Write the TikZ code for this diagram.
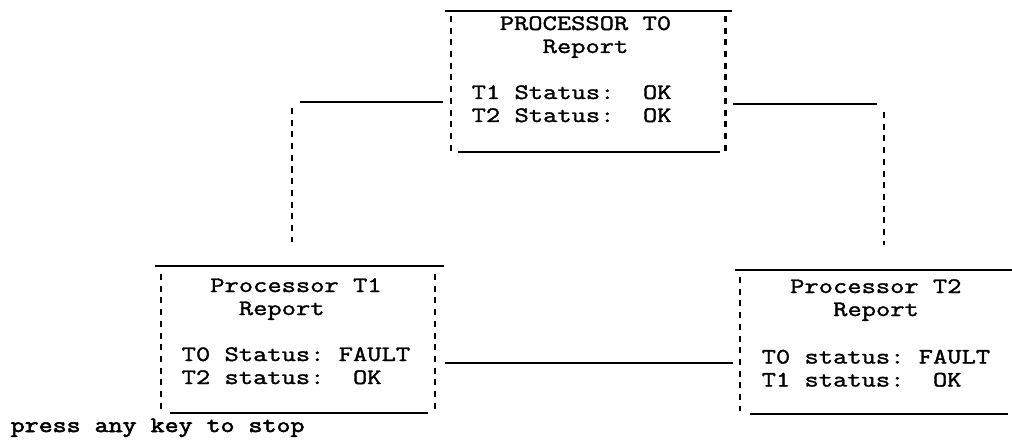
\documentclass[tikz,border=0pt]{standalone}
\usepackage{fontspec}
\newfontfamily\scr[FakeBold=1.6,FakeStretch=1.26]{Latin Modern Mono}
\newfontfamily\scrb[FakeBold=2.6,FakeStretch=1.235]{Latin Modern Mono}
\tikzset{
  solidln/.style={line width=2pt, black},
  dotln/.style={line width=2.4pt, dash pattern=on 6pt off 5.7pt, black},
  txt/.style={anchor=base west, inner sep=0pt, font=\frenchspacing\scr\fontsize{22}{26}\selectfont},
  presstxt/.style={anchor=base west, inner sep=0pt, font=\frenchspacing\scrb\fontsize{22}{26}\selectfont},
}
\begin{document}
\begin{tikzpicture}[x=1pt,y=-1pt]
\useasboundingbox (0,0) rectangle (1012,441);

% ---- box T0 ----
\coordinate (b0tl) at (445,11.5);  \coordinate (b0tr) at (732,11.5);
\coordinate (b0bl) at (458,152);   \coordinate (b0br) at (720,152);
\coordinate (b0lt) at (451,16);    \coordinate (b0lb) at (451,151);
\coordinate (b0rt) at (725.5,16);  \coordinate (b0rb) at (725.5,151);
\draw[solidln] (b0tl) -- (b0tr);
\draw[solidln] (b0bl) -- (b0br);
\draw[dotln] (b0lt) -- (b0lb);
\draw[dotln] (b0rt) -- (b0rb);
\node[txt] (t0a) at (499.6,30) {PROCESSOR\ T0};
\node[txt] (t0b) at (542.5,53) {Report};
\node[txt] (t0c) at (471.5,99) {T1\ Status:\ \ OK};
\node[txt] (t0d) at (471.5,122) {T2\ Status:\ \ OK};

% ---- box T1 ----
\coordinate (b1tl) at (155,266);   \coordinate (b1tr) at (444,266);
\coordinate (b1bl) at (170,413);   \coordinate (b1br) at (428,413);
\coordinate (b1lt) at (161,274);   \coordinate (b1lb) at (161,409);
\coordinate (b1rt) at (435,274);   \coordinate (b1rb) at (435,409);
\draw[solidln] (b1tl) -- (b1tr);
\draw[solidln] (b1bl) -- (b1br);
\draw[dotln] (b1lt) -- (b1lb);
\draw[dotln] (b1rt) -- (b1rb);
\node[txt] (t1a) at (210.1,292) {Processor\ T1};
\node[txt] (t1b) at (238.7,315) {Report};
\node[txt] (t1c) at (181.5,361) {T0\ Status:\ FAULT};
\node[txt] (t1d) at (181.5,384) {T2\ status:\ \ OK};

% ---- box T2 ----
\coordinate (b2tl) at (735,270);   \coordinate (b2tr) at (1012,270);
\coordinate (b2bl) at (750,414);   \coordinate (b2br) at (1008,414);
\coordinate (b2lt) at (740,277);   \coordinate (b2lb) at (740,411);
\draw[solidln] (b2tl) -- (b2tr);
\draw[solidln] (b2bl) -- (b2br);
\draw[dotln] (b2lt) -- (b2lb);
\node[txt] (t2a) at (790,293) {Processor\ T2};
\node[txt] (t2b) at (833,316) {Report};
\node[txt] (t2c) at (761.5,363.5) {T0\ status:\ FAULT};
\node[txt] (t2d) at (761.5,386.5) {T1\ status:\ \ OK};

% ---- connectors ----
\coordinate (c0w) at (443,102);  \coordinate (c0wend) at (300,102);
\coordinate (v1t) at (292,108);  \coordinate (v1b) at (292,242);
\coordinate (c0e) at (733,104);  \coordinate (c0eend) at (877,104);
\coordinate (v2t) at (884,112);  \coordinate (v2b) at (884,245);
\coordinate (c1e) at (445,363);  \coordinate (c2w) at (733,363);
\draw[solidln] (c0w) -- (c0wend);
\draw[dotln] (v1t) -- (v1b);
\draw[solidln] (c0e) -- (c0eend);
\draw[dotln] (v2t) -- (v2b);
\draw[solidln] (c1e) -- (c2w);

\node[presstxt] (press) at (10.5,432) {press\ any\ key\ to\ stop};
\end{tikzpicture}
\end{document}
